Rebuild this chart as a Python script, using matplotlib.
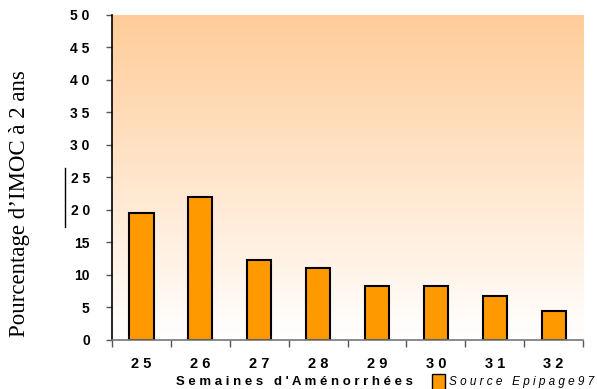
import numpy as np
import matplotlib
matplotlib.use("Agg")
import matplotlib.pyplot as plt
import matplotlib.patches as mpatches
from matplotlib.colors import LinearSegmentedColormap

# IMOC à 2 ans selon l'âge gestationnel (Epipage 97)
semaines = ["25", "26", "27", "28", "29", "30", "31", "32"]
pourcentages = [19.5, 22.0, 12.3, 11.0, 8.3, 8.3, 6.8, 4.5]
yticks = [0, 5, 10, 15, 20, 25, 30, 35, 40, 45, 50]


def espace(s):
    # lettres espacées comme dans le graphique d'origine
    return " ".join(s)


fig = plt.figure(figsize=(5.97, 3.89), dpi=100)
ax = fig.add_axes([0.1876, 0.126, 0.789, 0.8355])

# fond dégradé orange -> blanc
fond = LinearSegmentedColormap.from_list("fond", ["#FFFFFF", "#FFCC99"])
grad = np.linspace(0, 1, 256).reshape(-1, 1)
ax.imshow(grad, cmap=fond, aspect="auto", origin="lower",
          extent=[-0.5, len(semaines) - 0.5, 0, 50], zorder=0)

x = np.arange(len(semaines))
ax.bar(x, pourcentages, width=0.41, color="#FF9900", edgecolor="black",
       linewidth=1.5, zorder=2)

ax.set_xlim(-0.5, len(semaines) - 0.5)
ax.set_ylim(0, 50)

ax.set_yticks(yticks)
ax.set_yticklabels([espace(str(v)) if v >= 20 else str(v) for v in yticks],
                   fontfamily="Liberation Sans", fontweight="bold", fontsize=10)
ax.set_xticks(x)
ax.set_xticklabels([espace(s) for s in semaines],
                   fontfamily="Liberation Sans", fontweight="bold", fontsize=10.5)
ax.set_xticks(np.arange(len(semaines) + 1) - 0.5, minor=True)
ax.tick_params(axis="x", which="major", length=0, pad=12)
ax.tick_params(axis="x", which="minor", length=5, color="#555555", width=1)
ax.tick_params(axis="y", length=4, color="#555555", width=1, pad=12)

for side in ["top", "right"]:
    ax.spines[side].set_visible(False)
ax.spines["left"].set_color("black")
ax.spines["left"].set_linewidth(1.2)
ax.spines["bottom"].set_color("#777777")
ax.spines["bottom"].set_linewidth(1.2)

fig.text(0.0335, 0.4756, "Pourcentage d\u2019IMOC à 2 ans", rotation=90,
         ha="center", va="center", fontfamily="Liberation Serif", fontsize=16.5)
fig.text(0.494, 0.002, espace("Semaines d'Aménorrhées"),
         ha="center", va="bottom", fontfamily="Liberation Sans",
         fontweight="bold", fontsize=9.5)

# légende
fig.add_artist(mpatches.Rectangle((432 / 597, -0.01), 13 / 597, 19 / 389,
                                  transform=fig.transFigure,
                                  facecolor="#FF9900", edgecolor="black",
                                  linewidth=1))
fig.text(449 / 597, 0.002, espace("Source Epipage97"),
         ha="left", va="bottom", fontfamily="Liberation Sans",
         style="italic", fontsize=8.5)

# trait vertical isolé à gauche de l'axe
fig.add_artist(plt.Line2D([65 / 597, 65 / 597], [1 - 168 / 389, 1 - 227 / 389],
                          transform=fig.transFigure, color="black", linewidth=1))

fig.savefig("out.png", dpi=100)
